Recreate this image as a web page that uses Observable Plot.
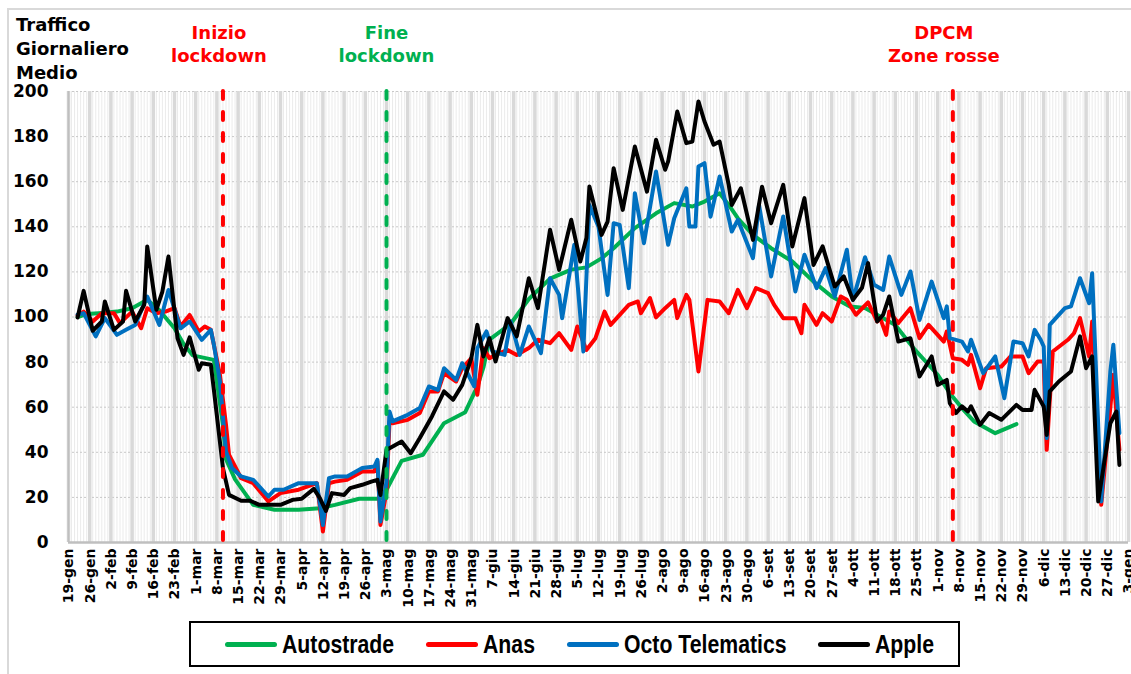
<!DOCTYPE html>
<html>
<head>
<meta charset="utf-8">
<script src="https://cdn.jsdelivr.net/npm/d3@7"></script>
<script src="https://cdn.jsdelivr.net/npm/@observablehq/plot@0.6"></script>
<style>
  html, body { margin: 0; padding: 0; background: #fff; }
  #wrap { position: relative; width: 1131px; height: 674px; overflow: hidden; font-family: "DejaVu Sans", sans-serif; }
  #frame { position: absolute; left: 7px; top: 8px; width: 1140px; height: 700px; border-left: 2px solid #d9d9d9; border-top: 2px solid #d9d9d9; }
  #chart { position: absolute; left: 0; top: 0; }
  #title { position: absolute; left: 16px; top: 13px; font-size: 18px; font-weight: bold; line-height: 24px; color: #000; }
  #legend { position: absolute; left: 189px; top: 621px; width: 771px; height: 46px; box-sizing: border-box; border: 2px solid #000; padding-left: 10px;
            display: flex; align-items: center; justify-content: center; gap: 32px; }
  .item { display: flex; align-items: center; gap: 5px; white-space: nowrap; }
  .sw { width: 52px; height: 5px; border-radius: 3px; flex: none; }
  .labbox { overflow: visible; height: 30px; position: relative; }
  .lab { position: absolute; left: 0; top: 0; line-height: 30px; display: inline-block; white-space: nowrap; font-family: "Liberation Sans", Arial, sans-serif; font-weight: bold; font-size: 25px; color: #000; transform: scaleX(0.85); transform-origin: 0 50%; }
</style>
</head>
<body>
<div id="wrap">
  <div id="frame"></div>
  <div id="chart"></div>
  <div id="title">Traffico<br>Giornaliero<br>Medio</div>
  <div id="legend"></div>
</div>
<script>
// x-axis tick labels, one every 7 days starting 19-gen-2020 (day 0)
const xLabels = ["19-gen","26-gen","2-feb","9-feb","16-feb","23-feb","1-mar","8-mar","15-mar","22-mar","29-mar","5-apr","12-apr","19-apr","26-apr","3-mag","10-mag","17-mag","24-mag","31-mag","7-giu","14-giu","21-giu","28-giu","5-lug","12-lug","19-lug","26-lug","2-ago","9-ago","16-ago","23-ago","30-ago","6-set","13-set","20-set","27-set","4-ott","11-ott","18-ott","25-ott","1-nov","8-nov","15-nov","22-nov","29-nov","6-dic","13-dic","20-dic","27-dic","3-gen"];
const yTicks = [0,20,40,60,80,100,120,140,160,180,200];

// [day since 19-gen, value]
const autostrade = [[3,100],[6,101.3],[10,101.7],[16,102.4],[21,103.9],[26,107.6],[30,103],[35,95],[38,88],[41,83],[48,81],[51,52],[52,37],[55,28],[61,16.7],[68,14.5],[76,14.5],[83,15.2],[88,16.7],[96,19.4],[103,19.4],[105,23.4],[110,36.2],[117,38.9],[124,52.9],[131,57.8],[135,69.2],[137,77.6],[139,90],[146,97],[152,108],[159,117],[166,121],[171,122],[176,126],[180,130.5],[187,139.4],[194,146],[200,150.5],[206,149],[210,151.2],[215,154.9],[218,149.7],[221,143.8],[226,136.4],[232,130.5],[239,124.6],[246,115.7],[252,109.1],[258,104.7],[263,104],[273,96.5],[279,86.2],[287,74.4],[291,66.2],[295,59.6],[299,53.7],[306,48.5],[313,52.5]];

const anas = [[3,100.7],[5,102.4],[8,98],[11,101.7],[15,101.7],[17,97.3],[21,102.4],[24,95],[26,103.9],[29,101.7],[32,102.4],[35,103.9],[37,95.8],[40,100.9],[43,93.6],[45,95.8],[47,94.3],[50,74.4],[52,52.2],[53,38.9],[57,28.5],[61,26.3],[66,18.2],[70,21.9],[76,23.4],[82,26.3],[84,4.9],[86,26.3],[88,27],[92,27.8],[97,31.5],[101,31.5],[102,35.9],[103,7.8],[105,22.6],[106,53.7],[107,52.9],[112,54.4],[116,57.4],[119,67],[122,67],[124,75.1],[128,71.4],[130,77.3],[133,81.7],[135,65.5],[137,86.2],[139,81.7],[141,83.2],[145,85.4],[148,83.2],[152,86.2],[155,89.9],[159,88.4],[162,92.8],[166,85.4],[168,95.8],[171,85.4],[174,90.6],[177,102.4],[179,96.5],[185,105.4],[188,106.9],[189,101.7],[192,108.4],[194,99.8],[197,103.9],[200,107.6],[201,99.5],[204,109.8],[205,107.6],[208,75.8],[211,107.6],[215,106.9],[218,101.7],[221,112],[224,103.9],[227,112.8],[231,110.6],[233,105.4],[236,99.5],[240,99.5],[242,92.8],[243,105.4],[247,96.5],[249,101.7],[252,98],[255,109.1],[257,107.6],[260,101],[264,106.5],[267,98],[268,99.5],[270,92.1],[271,102.4],[274,97.3],[278,103.9],[281,90.6],[284,96.5],[289,89.1],[290,93.6],[292,81.7],[295,81],[297,78.8],[298,83.2],[301,68.4],[303,77.3],[308,78],[311,82.5],[315,82.5],[317,75.1],[320,80.3],[322,80.3],[323,41.1],[325,84.7],[330,89.9],[332,92.8],[334,99.5],[337,82.5],[338,98],[341,16.7],[345,74.4],[347,41.1]];

const octo = [[3,101],[5,101.7],[9,91.4],[12,99.5],[16,92.1],[19,94.3],[22,96.5],[26,109.1],[30,96.5],[33,112],[37,95],[40,98],[44,89.9],[47,94.3],[48,87.7],[50,71.4],[52,40.4],[54,33],[57,29.3],[61,27.8],[66,20.4],[68,23.4],[71,23.4],[76,26.3],[82,26.3],[84,7.8],[86,28.5],[88,29.3],[92,29.3],[97,33],[101,33.7],[102,36.7],[103,9.3],[105,27],[106,58.1],[107,53.7],[112,56.6],[116,59.6],[119,69.2],[122,67.7],[124,77.3],[128,72.1],[130,79.5],[134,69.2],[135,86.2],[138,93.6],[140,84.7],[144,83.2],[146,98],[149,83.2],[152,95.8],[156,84],[159,117.2],[162,109.8],[163,99.5],[167,132],[170,84.7],[172,149.7],[175,140],[178,109.8],[180,141.6],[182,140.8],[185,112.8],[187,154.9],[190,132.7],[194,164.5],[198,132],[200,143.8],[204,157.1],[205,140.1],[207,140.1],[208,166.7],[210,168.2],[212,144.5],[215,162.3],[219,137.9],[221,143.1],[226,126.1],[228,149.7],[232,118],[236,144.6],[240,111.3],[243,127.6],[247,112.8],[250,121.7],[253,109.1],[257,129.8],[259,107.6],[263,126.5],[266,114.3],[269,112],[271,126.8],[275,109.8],[278,120.2],[281,98.7],[285,115.7],[289,99.5],[290,104.7],[291,90.6],[295,89.1],[297,84.7],[298,89.9],[302,75.1],[306,82.5],[309,64],[312,89.1],[315,88.4],[317,82.5],[319,94.3],[321,89.9],[322,86.9],[323,46.3],[324,96.5],[326,99.5],[329,103.9],[331,104.7],[334,117.2],[337,106.1],[338,119.4],[341,18.2],[344,75.8],[345,87.7],[347,48.5]];

const apple = [[3,99.8],[5,111.6],[8,93.9],[11,98],[12,106.9],[15,94.3],[18,98],[19,111.6],[22,98],[25,105.4],[26,131.3],[29,103.2],[31,111.3],[33,126.8],[36,90.6],[38,83.2],[40,91],[43,76.6],[44,79.5],[47,78.8],[48,67.7],[51,33],[53,21.1],[57,18.5],[60,18.5],[63,16.7],[70,16.7],[74,18.9],[77,19.4],[81,23.8],[83,19.7],[85,14],[87,21.9],[91,21.1],[93,24.1],[97,25.6],[100,27],[102,27.8],[103,21.1],[105,41.1],[106,41.8],[110,44.8],[113,39.6],[116,46.3],[120,55.9],[124,67],[127,63.3],[130,69.9],[133,81.7],[135,96.5],[137,82.5],[139,90.6],[141,80.3],[145,99.5],[148,91.4],[152,117.2],[155,103.9],[159,138.7],[162,120.9],[166,143.1],[169,124.6],[171,135],[172,157.9],[176,136.4],[178,142.3],[180,166],[183,147.5],[187,175.6],[191,155.6],[194,178.6],[197,165.3],[198,169],[201,191.1],[204,177.1],[206,177.8],[208,195.6],[210,186.7],[213,176.4],[215,177.8],[218,158.6],[219,149.7],[222,157.1],[226,134.2],[229,157.8],[232,141.6],[236,158.6],[239,131.3],[243,152.7],[246,123.1],[249,131.3],[253,113.5],[256,118],[259,107.6],[262,113],[264,123.9],[267,98],[269,101],[271,109.1],[274,89.1],[278,90.6],[281,73.6],[285,82.5],[287,69.9],[290,72.1],[291,61.8],[293,57.4],[295,60.4],[297,58.1],[298,60.4],[301,52.2],[304,57.4],[308,54.4],[313,61],[315,58.8],[318,58.8],[319,67.7],[322,60.3],[323,47.7],[324,67],[327,71.4],[331,75.8],[334,91.4],[336,77.3],[338,82.5],[340,18.2],[344,52.9],[346,58.1],[347,34.4]];

const seriesNames = ["Autostrade", "Anas", "Octo Telematics", "Apple"];
const seriesColors = ["#00b050", "#ff0000", "#0070c0", "#000000"];
const seriesData = [autostrade, anas, octo, apple];

const eventDays = [51, 105, 292];
const eventLabels = ["Inizio\nlockdown", "Fine\nlockdown", "DPCM\nZone rosse"];
const eventColors = ["#ff0000", "#00b050", "#ff0000"];
const eventLabelShift = [-4, 0, -9];

const tickDays = xLabels.map((_, i) => i * 7);

const marks = [
  Plot.ruleX(d3.range(0, 351), {stroke: "#ebebeb", strokeWidth: 1}),
  Plot.ruleY(yTicks.filter(v => v > 0), {stroke: "#c8c8c8", strokeWidth: 1, strokeDasharray: "2,2"}),
  Plot.ruleX(tickDays, {stroke: "#d9d9d9", strokeWidth: 3.5}),
  Plot.ruleX([0], {stroke: "#bfbfbf", strokeWidth: 2}),
  Plot.ruleY([0], {stroke: "#bfbfbf", strokeWidth: 2.5}),
  Plot.axisY({ticks: yTicks, tickSize: 0, tickPadding: 20, fontSize: 17, fontWeight: "bold", fill: "#000"}),
  Plot.axisX({ticks: tickDays, tickFormat: d => xLabels[Math.round(d / 7)], tickRotate: -90, tickSize: 0, tickPadding: 6, fontSize: 14, fontWeight: "bold", fill: "#000", dx: 0.5})
];
seriesData.forEach((arr, i) => {
  marks.push(Plot.line(arr, {x: d => d[0], y: d => d[1], stroke: seriesColors[i], strokeWidth: 4, strokeLinejoin: "round", strokeLinecap: "round"}));
});
eventDays.forEach((d, i) => {
  marks.push(Plot.ruleX([d], {stroke: eventColors[i], strokeWidth: 4, strokeDasharray: "8,13", strokeLinecap: "round"}));
  marks.push(Plot.text([d], {x: v => v, text: () => eventLabels[i], frameAnchor: "top", lineAnchor: "top", dy: -70, dx: eventLabelShift[i], fill: eventColors[i], fontSize: 18, fontWeight: "bold", lineHeight: 1.33}));
});

const chart = Plot.plot({
  width: 1131, height: 620,
  marginLeft: 68, marginRight: 3, marginTop: 91, marginBottom: 78,
  style: {fontFamily: "'DejaVu Sans', sans-serif", background: "transparent", overflow: "visible"},
  x: {domain: [0, 350]},
  y: {domain: [0, 200]},
  marks
});
document.getElementById("chart").appendChild(chart);

const legend = document.getElementById("legend");
seriesNames.forEach((name, i) => {
  const item = document.createElement("div");
  item.className = "item";
  const sw = document.createElement("div");
  sw.className = "sw";
  sw.style.background = seriesColors[i];
  const box = document.createElement("div");
  box.className = "labbox";
  const lab = document.createElement("span");
  lab.className = "lab";
  lab.textContent = name;
  box.appendChild(lab);
  item.appendChild(sw);
  item.appendChild(box);
  legend.appendChild(item);
  box.style.width = (lab.getBoundingClientRect().width) + "px";
});
</script>
</body>
</html>
